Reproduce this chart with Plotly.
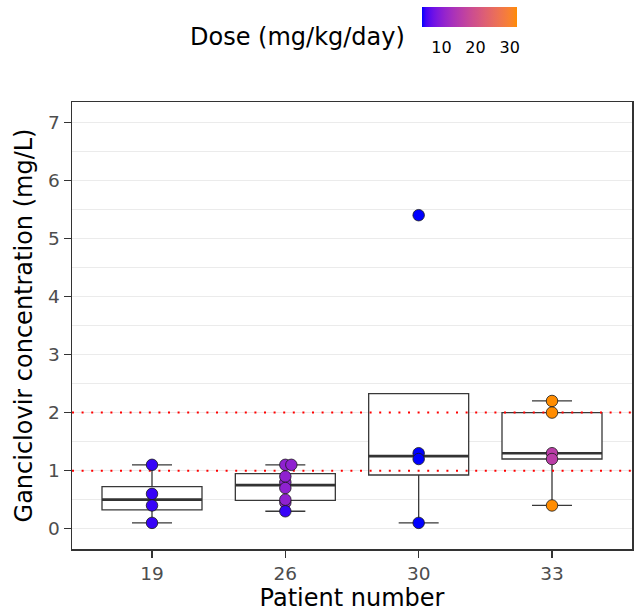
import numpy as np
import plotly.graph_objects as go

# ---------------- data ----------------
patients = ["19", "26", "30", "33"]
point_patient = ["19", "19", "19", "19",
                 "26", "26", "26", "26", "26", "26", "26", "26",
                 "30", "30", "30", "30",
                 "33", "33", "33", "33", "33"]
point_conc = [1.1, 0.6, 0.4, 0.1,
              0.8, 0.45, 1.1, 1.1, 0.9, 0.7, 0.5, 0.3,
              5.4, 1.3, 1.2, 0.1,
              2.2, 2.0, 1.3, 1.2, 0.4]
point_dose = [5.2, 5.2, 5.2, 5.2,
              10.4, 10.4, 10.4, 10.4, 10.4, 10.4, 10.4, 5.2,
              4.24, 4.24, 4.24, 4.24,
              32.06, 32.06, 15.9, 15.9, 32.06]
target_lines = [1, 2]
dose_ticks = [10, 20, 30]
y_ticks = [0, 1, 2, 3, 4, 5, 6, 7]

# ---------------- helpers ----------------
def hex_to_rgb(h):
    h = h.lstrip("#")
    return [int(h[i:i + 2], 16) / 255 for i in (0, 2, 4)]

def srgb_to_lab(rgb):
    lin = [c / 12.92 if c <= 0.04045 else ((c + 0.055) / 1.055) ** 2.4 for c in rgb]
    r, g, b = lin
    X = 0.4124 * r + 0.3576 * g + 0.1805 * b
    Y = 0.2126 * r + 0.7152 * g + 0.0722 * b
    Z = 0.0193 * r + 0.1192 * g + 0.9505 * b
    def f(t):
        return t ** (1 / 3) if t > 0.008856 else 7.787 * t + 16 / 116
    fx, fy, fz = f(X / 0.95047), f(Y / 1.0), f(Z / 1.08883)
    return [116 * fy - 16, 500 * (fx - fy), 200 * (fy - fz)]

def lab_to_srgb(lab):
    L, a, b = lab
    fy = (L + 16) / 116
    fx = fy + a / 500
    fz = fy - b / 200
    def finv(t):
        return t ** 3 if t ** 3 > 0.008856 else (t - 16 / 116) / 7.787
    X, Y, Z = 0.95047 * finv(fx), finv(fy), 1.08883 * finv(fz)
    r = 3.2406 * X - 1.5372 * Y - 0.4986 * Z
    g = -0.9689 * X + 1.8758 * Y + 0.0415 * Z
    bb = 0.0557 * X - 0.2040 * Y + 1.0570 * Z
    out = []
    for c in (r, g, bb):
        c = min(max(c, 0), 1)
        c = 12.92 * c if c <= 0.0031308 else 1.055 * c ** (1 / 2.4) - 0.055
        out.append(int(round(min(max(c, 0), 1) * 255)))
    return "rgb(%d,%d,%d)" % tuple(out)

low_lab = srgb_to_lab(hex_to_rgb("#0000FF"))
high_lab = srgb_to_lab(hex_to_rgb("#FF8C00"))
n_stops = 25
colorscale = []
for k in range(n_stops):
    t = k / (n_stops - 1)
    lab = [low_lab[i] + t * (high_lab[i] - low_lab[i]) for i in range(3)]
    colorscale.append([t, lab_to_srgb(lab)])

# ---------------- box statistics (R type 7) ----------------
idx = {p: i for i, p in enumerate(patients)}
q1s, meds, q3s, lows, highs = [], [], [], [], []
for p in patients:
    v = np.array([c for pp, c in zip(point_patient, point_conc) if pp == p])
    q1, med, q3 = np.percentile(v, [25, 50, 75])
    iqr = q3 - q1
    inside = v[(v >= q1 - 1.5 * iqr) & (v <= q3 + 1.5 * iqr)]
    q1s.append(q1); meds.append(med); q3s.append(q3)
    lows.append(min(inside.min(), q1))
    highs.append(max(inside.max(), q3))

# point x positions: category index, duplicates dodged slightly
px = []
seen = {}
for p, c in zip(point_patient, point_conc):
    key = (p, c)
    n = seen.get(key, 0)
    seen[key] = n + 1
    px.append(idx[p] + 0.045 * n)

FONT = "DejaVu Sans"
BOX_W = 0.75
X_RANGE = [-0.6, 3.6]
ML, MR, MT, MB = 72, 3, 102, 64
PW = 635 - ML - MR
PH = 613 - MT - MB

def paper_x(px_):
    return (px_ - ML) / PW

def paper_y(py_):
    return (613 - MB - py_) / PH

fig = go.Figure()
fig.add_trace(go.Box(
    x=list(range(len(patients))), q1=q1s, median=meds, q3=q3s,
    lowerfence=lows, upperfence=highs,
    width=BOX_W, whiskerwidth=0.4, boxpoints=False,
    fillcolor="white", line=dict(color="#383838", width=1.3),
    showlegend=False, hoverinfo="skip"))

for i, m in enumerate(meds):
    fig.add_trace(go.Scatter(
        x=[i - BOX_W / 2, i + BOX_W / 2], y=[m, m], mode="lines",
        line=dict(color="#333333", width=2.6), showlegend=False, hoverinfo="skip"))

for thr in target_lines:
    fig.add_trace(go.Scatter(
        x=X_RANGE, y=[thr, thr], mode="lines",
        line=dict(color="#FF0000", width=2, dash="2px,7.6px"),
        showlegend=False, hoverinfo="skip"))

fig.add_trace(go.Scatter(
    x=px, y=point_conc, mode="markers", showlegend=False,
    marker=dict(size=11.5, color=point_dose, colorscale=colorscale,
                cmin=min(point_dose), cmax=max(point_dose),
                line=dict(color="#1a1a1a", width=0.8),
                showscale=True,
                colorbar=dict(orientation="h", x=paper_x(421.7), xanchor="left",
                              y=paper_y(7.3), yanchor="top",
                              len=94.6, lenmode="pixels", thickness=20,
                              thicknessmode="pixels", outlinewidth=0,
                              xpad=0, ypad=0,
                              tickvals=dose_ticks, ticks="outside", ticklen=7,
                              tickcolor="rgba(255,255,255,0)", tickwidth=1,
                              tickfont=dict(family=FONT, size=16, color="black"))),
    hoverinfo="skip"))

fig.add_annotation(text="Dose (mg/kg/day)", xref="paper", yref="paper",
                   x=paper_x(188.3), xanchor="left",
                   y=paper_y(37), yanchor="middle", showarrow=False,
                   font=dict(family=FONT, size=24, color="black"))

axis_common = dict(showline=True, mirror=True, linecolor="#333333", linewidth=1.5,
                   ticks="outside", ticklen=7, tickwidth=1.5, tickcolor="#333333",
                   zeroline=False,
                   tickfont=dict(family=FONT, size=18.5, color="#4D4D4D"))

fig.update_layout(
    width=635, height=613,
    margin=dict(l=ML, r=MR, t=MT, b=MB, autoexpand=False),
    paper_bgcolor="white", plot_bgcolor="white",
    font=dict(family=FONT),
    xaxis=dict(range=X_RANGE, tickvals=list(range(len(patients))), ticktext=patients,
               showgrid=False,
               title=dict(text="Patient number", font=dict(family=FONT, size=24, color="black"),
                          standoff=4),
               **axis_common),
    yaxis=dict(range=[-0.35, 7.35], tickvals=y_ticks, showgrid=False,
               minor=dict(dtick=0.5, tick0=0, showgrid=True, gridcolor="#EBEBEB", gridwidth=1.2),
               title=dict(text="Ganciclovir concentration (mg/L)",
                          font=dict(family=FONT, size=24, color="black"), standoff=8),
               **axis_common),
)

fig.write_html("out.html",
               config={"displayModeBar": False, "staticPlot": True},
               post_script="document.body.style.margin='0px';"
                           "document.body.style.overflow='hidden';")
